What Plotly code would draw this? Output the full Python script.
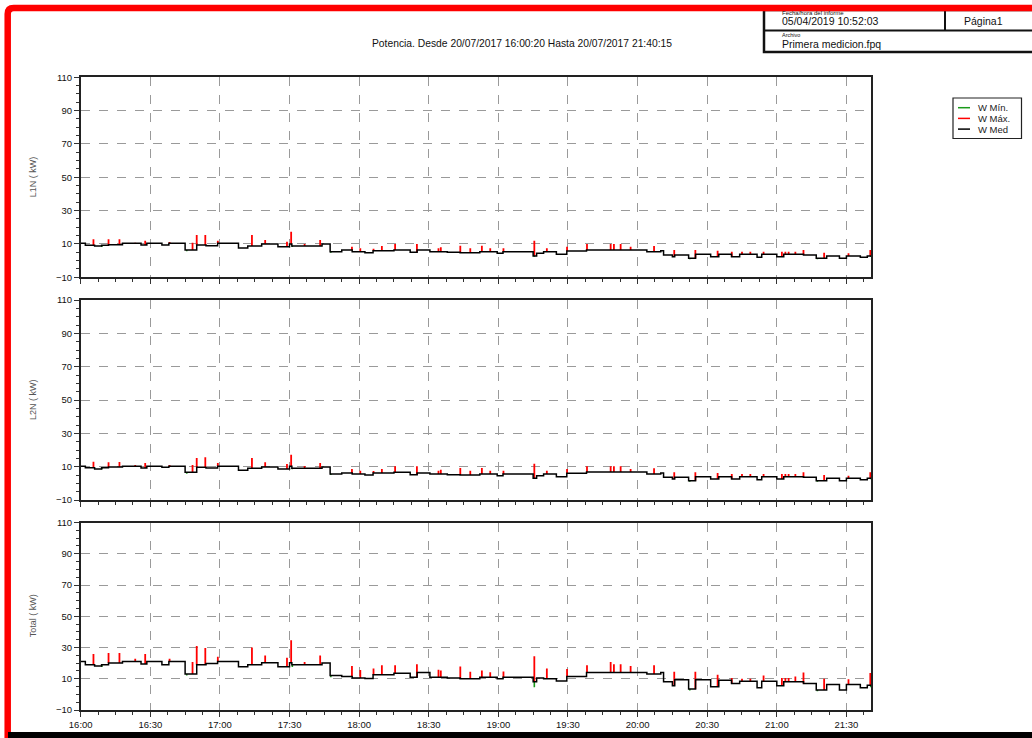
import numpy as np
import pandas as pd
import plotly.graph_objects as go

W, H = 1032, 738
BASE = pd.Timestamp("2017-07-20 16:00:00")
END_MIN = 340.6

# ---- data (minutes after 16:00) ----
MED_MIN = [0, 2, 6, 9, 12, 18, 26, 28.5, 35, 38, 45, 50, 54, 59, 68, 72, 78, 85, 90, 91,
           104, 107.5, 112.5, 117, 122.5, 126, 135, 142, 145, 150.5, 158, 163.5, 172, 179.5, 182, 195, 196.5, 199.5, 205, 209.5,
           218, 244, 250, 251.2, 255, 256, 262, 265, 271.5, 275, 280.5, 284, 291.5, 293.5, 300, 303, 311.5, 317, 321.5, 327,
           330, 336, 339]
L1N_MED = [10.4, 9.2, 8.8, 9.2, 9.6, 10.4, 9.4, 10.4, 9.4, 10.4, 6.4, 9.4, 9.0, 10.4, 7.6, 8.8, 10.0, 8.4, 10.0, 8.8,
           10.0, 5.4, 6.4, 5.4, 4.8, 6.0, 6.4, 5.0, 6.4, 5.4, 5.0, 4.8, 5.4, 4.4, 5.4, 2.8, 4.4, 5.4, 3.8, 5.8,
           6.4, 5.4, 6.0, 3.4, 2.4, 3.4, 1.4, 3.8, 2.4, 3.8, 2.4, 3.8, 2.0, 3.8, 2.4, 3.8, 3.4, 1.4, 2.8, 1.4,
           2.8, 2.0, 2.8]
L2N_MED = [10.2, 9.4, 8.6, 9.4, 9.8, 10.2, 9.2, 10.2, 9.6, 10.2, 6.6, 9.6, 9.2, 10.2, 7.8, 9.0, 9.8, 8.6, 10.2, 9.0,
           9.8, 5.6, 6.2, 5.6, 5.0, 6.2, 6.6, 5.2, 6.2, 5.6, 5.2, 5.0, 5.6, 4.6, 5.6, 3.0, 4.6, 5.6, 4.0, 6.0,
           6.8, 5.6, 6.2, 3.6, 2.6, 3.6, 1.6, 4.0, 2.6, 4.0, 2.6, 4.0, 2.2, 4.0, 2.6, 4.0, 3.6, 1.6, 3.0, 1.6,
           3.0, 2.2, 3.0]
TOTAL_MED = [21.1, 18.9, 18.2, 18.9, 20.0, 21.1, 19.5, 21.1, 18.9, 21.1, 13.0, 18.9, 19.7, 21.1, 17.6, 18.9, 20.3, 17.6, 20.3, 18.9,
             20.0, 12.0, 11.5, 10.5, 10.2, 12.5, 13.5, 11.0, 14.0, 11.0, 10.5, 10.0, 11.0, 10.0, 11.0, 8.0, 10.5, 10.0, 8.5, 11.5,
             14.0, 13.0, 14.0, 8.0, 5.5, 9.4, 3.4, 9.4, 4.8, 9.0, 7.0, 8.4, 4.2, 8.4, 5.5, 8.0, 7.0, 2.8, 6.3, 2.8,
             6.3, 4.2, 5.9]

MAX_MIN = [5.5, 12, 16.7, 23.5, 27.8, 38.3, 48.2, 50, 53.7, 59.1, 73.8, 79.5, 88.9, 90.7, 96.5, 103.2, 116.9, 120.5,
           126.2, 129.8, 135.5, 144.9, 154.2, 155.2, 163.6, 167.9, 172.9, 176.5, 182.2, 195.5, 200.9, 209.6, 218.2, 228.4, 229.8, 232.7, 237, 247.1,
           255.8, 264.9, 274.5, 280.6, 285, 288.6, 294.3, 302.2, 303.7, 305.1, 308, 311.5, 320.4, 330.9, 340.3]
L1N_MAX = [12.8, 12.8, 12.8, 10.8, 12.0, 11.2, 10.8, 15.4, 15.4, 12.0, 15.4, 12.4, 11.4, 17.4, 10.0, 12.4, 8.4, 7.4,
           7.2, 8.8, 10.0, 10.0, 7.4, 8.0, 9.0, 7.4, 9.0, 7.4, 7.4, 12.0, 7.4, 8.4, 10.0, 10.0, 10.0, 10.0, 8.4, 8.8,
           6.4, 6.4, 6.0, 5.4, 5.4, 5.4, 5.4, 5.4, 5.4, 5.4, 5.4, 6.4, 4.8, 4.4, 6.4]
L2N_MAX = [13.0, 12.6, 12.8, 11.0, 12.2, 11.0, 11.0, 15.2, 15.6, 12.2, 15.2, 12.6, 11.6, 17.2, 10.4, 12.2, 8.6, 7.6,
           7.4, 8.6, 10.2, 10.2, 7.6, 8.2, 9.2, 7.6, 9.2, 7.6, 7.6, 11.8, 7.6, 8.6, 10.2, 10.2, 10.2, 10.2, 8.6, 9.0,
           6.6, 6.6, 6.2, 5.6, 5.6, 5.6, 5.6, 5.6, 5.6, 5.6, 5.6, 6.6, 5.0, 4.6, 6.6]
TOTAL_MAX = [25.9, 26.5, 26.5, 22.8, 25.9, 22.8, 20.7, 31.0, 29.6, 24.0, 30.0, 24.8, 23.4, 34.7, 20.7, 24.8, 18.2, 15.6,
             16.6, 18.7, 18.7, 19.3, 15.8, 15.2, 17.8, 14.5, 15.2, 14.1, 14.7, 24.4, 16.6, 16.2, 18.7, 20.7, 19.3, 19.3, 18.2, 18.7,
             14.5, 14.5, 12.5, 10.5, 10.0, 10.0, 12.0, 10.5, 10.5, 10.5, 11.5, 14.0, 10.0, 9.6, 13.7]

MIN_MIN = [9.1, 45.7, 91.2, 107.8, 195.5, 262.5, 317.5, 340.5]
L1N_MIN = [8.2, 5.6, 8.2, 4.8, 2.4, 0.8, 0.8, 2.2]
L2N_MIN = [8.4, 5.8, 8.4, 5.0, 2.6, 1.0, 1.0, 2.4]
TOTAL_MIN = [17.5, 12.0, 17.5, 11.0, 4.5, 2.5, 2.0, 4.5]

PANELS = [("L1N ( kW)", L1N_MED, L1N_MAX, L1N_MIN),
          ("L2N ( kW)", L2N_MED, L2N_MAX, L2N_MIN),
          ("Total ( kW)", TOTAL_MED, TOTAL_MAX, TOTAL_MIN)]

TITLE = "Potencia. Desde 20/07/2017 16:00:20 Hasta 20/07/2017 21:40:15"
LEGEND = [("W Mín.", "#1a9a1a"), ("W Máx.", "#ff0000"), ("W Med", "#000000")]

# ---- geometry (pixels) ----
FONT = "Liberation Sans, Arial, sans-serif"
X0, X1 = 80.7, 871.0
PANEL_Y = [(77.3, 277.3), (300.0, 500.0), (522.5, 710.0)]


def px(x):
    return x / W


def py(y):
    return 1 - y / H


def tstamp(mins):
    return [BASE + pd.Timedelta(minutes=float(m)) for m in mins]


def med_at(t, times, vals):
    i = int(np.searchsorted(times, t, side="right")) - 1
    return vals[max(i, 0)]


fig = go.Figure()
layout = {}
annotations = []
shapes = []

for k, (label, med, mx, mn) in enumerate(PANELS):
    n = k + 1
    xa = "x" if n == 1 else f"x{n}"
    ya = "y" if n == 1 else f"y{n}"
    # min dips
    xs, ys = [], []
    for t, v in zip(MIN_MIN, mn):
        m = med_at(t, MED_MIN, med)
        xs += tstamp([t, t]) + [None]
        ys += [m, v, None]
    fig.add_trace(go.Scatter(x=xs, y=ys, mode="lines", line=dict(color="#1a9a1a", width=1.6),
                             xaxis=xa, yaxis=ya, showlegend=False, hoverinfo="skip"))
    # max spikes
    xs, ys = [], []
    for t, v in zip(MAX_MIN, mx):
        m = med_at(t, MED_MIN, med)
        xs += tstamp([t, t]) + [None]
        ys += [m, v, None]
    fig.add_trace(go.Scatter(x=xs, y=ys, mode="lines", line=dict(color="#ff0000", width=1.8),
                             xaxis=xa, yaxis=ya, showlegend=False, hoverinfo="skip"))
    # med step
    fig.add_trace(go.Scatter(x=tstamp(MED_MIN + [END_MIN]), y=med + [med[-1]], mode="lines",
                             line=dict(color="#000000", width=1.5, shape="hv"),
                             xaxis=xa, yaxis=ya, showlegend=False, hoverinfo="skip"))

    top, bot = PANEL_Y[k]
    xkey = "xaxis" if n == 1 else f"xaxis{n}"
    ykey = "yaxis" if n == 1 else f"yaxis{n}"
    layout[xkey] = dict(
        domain=[px(X0), px(X1)], anchor=ya, type="date", automargin=False,
        range=[BASE, BASE + pd.Timedelta(minutes=END_MIN)],
        tick0=BASE, dtick=30 * 60 * 1000, tickformat="%H:%M",
        ticks="outside", ticklen=5, tickcolor="#333", tickwidth=1,
        showticklabels=(n == 3),
        tickfont=dict(family=FONT, size=9.5, color="#111"),
        showline=True, linecolor="#222", linewidth=1.5, mirror=True,
        showgrid=True, gridcolor="#9a9a9a", griddash="dash", gridwidth=1,
        zeroline=False,
        minor=dict(dtick=7.5 * 60 * 1000, ticks="outside", ticklen=3, tickcolor="#333", showgrid=False),
    )
    layout[ykey] = dict(
        domain=[py(bot), py(top)], anchor=xa, range=[-10, 110], automargin=False,
        tick0=-10, dtick=20, ticks="outside", ticklen=5, tickcolor="#333",
        tickfont=dict(family=FONT, size=9.5, color="#111"),
        showline=True, linecolor="#222", linewidth=1.5, mirror=True,
        showgrid=True, gridcolor="#9a9a9a", griddash="dash", gridwidth=1,
        zeroline=False,
        minor=dict(dtick=5, ticks="outside", ticklen=3, tickcolor="#333", showgrid=False),
    )
    annotations.append(dict(x=px(33), y=py((top + bot) / 2), xref="paper", yref="paper",
                            text=label, textangle=-90, showarrow=False,
                            font=dict(family=FONT, size=9, color="#555"),
                            xanchor="center", yanchor="middle"))

# title
annotations.append(dict(x=px(522), y=py(43), xref="paper", yref="paper", text=TITLE,
                        showarrow=False, font=dict(family=FONT, size=10.3, color="#111"),
                        xanchor="center", yanchor="middle"))

# manual legend
shapes.append(dict(type="rect", xref="paper", yref="paper", x0=px(953), x1=px(1021.5),
                   y0=py(138.5), y1=py(98), line=dict(color="#222", width=1.2), layer="above"))
for i, (name, col) in enumerate(LEGEND):
    yy = 107.7 + i * 10.7
    shapes.append(dict(type="line", xref="paper", yref="paper", x0=px(958), x1=px(970),
                       y0=py(yy), y1=py(yy), line=dict(color=col, width=1.5), layer="above"))
    annotations.append(dict(x=px(976), y=py(yy), xref="paper", yref="paper", text=name,
                            showarrow=False, font=dict(family=FONT, size=9.5, color="#222"),
                            xanchor="left", yanchor="middle"))

# header box
shapes.append(dict(type="rect", xref="paper", yref="paper", x0=px(764), x1=px(1045),
                   y0=py(52), y1=py(10), line=dict(color="#111", width=2.5), layer="above"))
shapes.append(dict(type="line", xref="paper", yref="paper", x0=px(764), x1=px(1045),
                   y0=py(30.5), y1=py(30.5), line=dict(color="#111", width=2), layer="above"))
shapes.append(dict(type="line", xref="paper", yref="paper", x0=px(945), x1=px(945),
                   y0=py(30.5), y1=py(10), line=dict(color="#111", width=2), layer="above"))
header_texts = [
    ("Fecha/hora del informe", 780, 13, 6),
    ("05/04/2019 10:52:03", 780, 21, 10.5),
    ("Página1", 962, 21, 10.5),
    ("Archivo", 780, 35.5, 5.5),
    ("Primera medicion.fpq", 780, 44.5, 10.5),
]
for txt, xx, yy, sz in header_texts:
    annotations.append(dict(x=px(xx), y=py(yy), xref="paper", yref="paper", text=txt,
                            showarrow=False, font=dict(family=FONT, size=sz, color="#111"),
                            xanchor="left", yanchor="middle"))

# page frame: red top/left border and black bottom band
shapes.append(dict(type="path", xref="paper", yref="paper",
                   path=f"M {px(7.7)},{py(745)} L {px(7.7)},{py(14)} Q {px(7.7)},{py(8)} {px(13.7)},{py(8)} L {px(1040)},{py(8)}",
                   line=dict(color="#ff0000", width=6.5), layer="above"))
shapes.append(dict(type="rect", xref="paper", yref="paper", x0=px(8), x1=px(1040),
                   y0=py(740), y1=py(732), fillcolor="#000", line=dict(width=0), layer="above"))

fig.update_layout(
    width=W, height=H, margin=dict(l=0, r=0, t=0, b=0, pad=0, autoexpand=False),
    paper_bgcolor="white", plot_bgcolor="white",
    showlegend=False, annotations=annotations, shapes=shapes,
    **layout,
)

fig.write_html("out.html")
